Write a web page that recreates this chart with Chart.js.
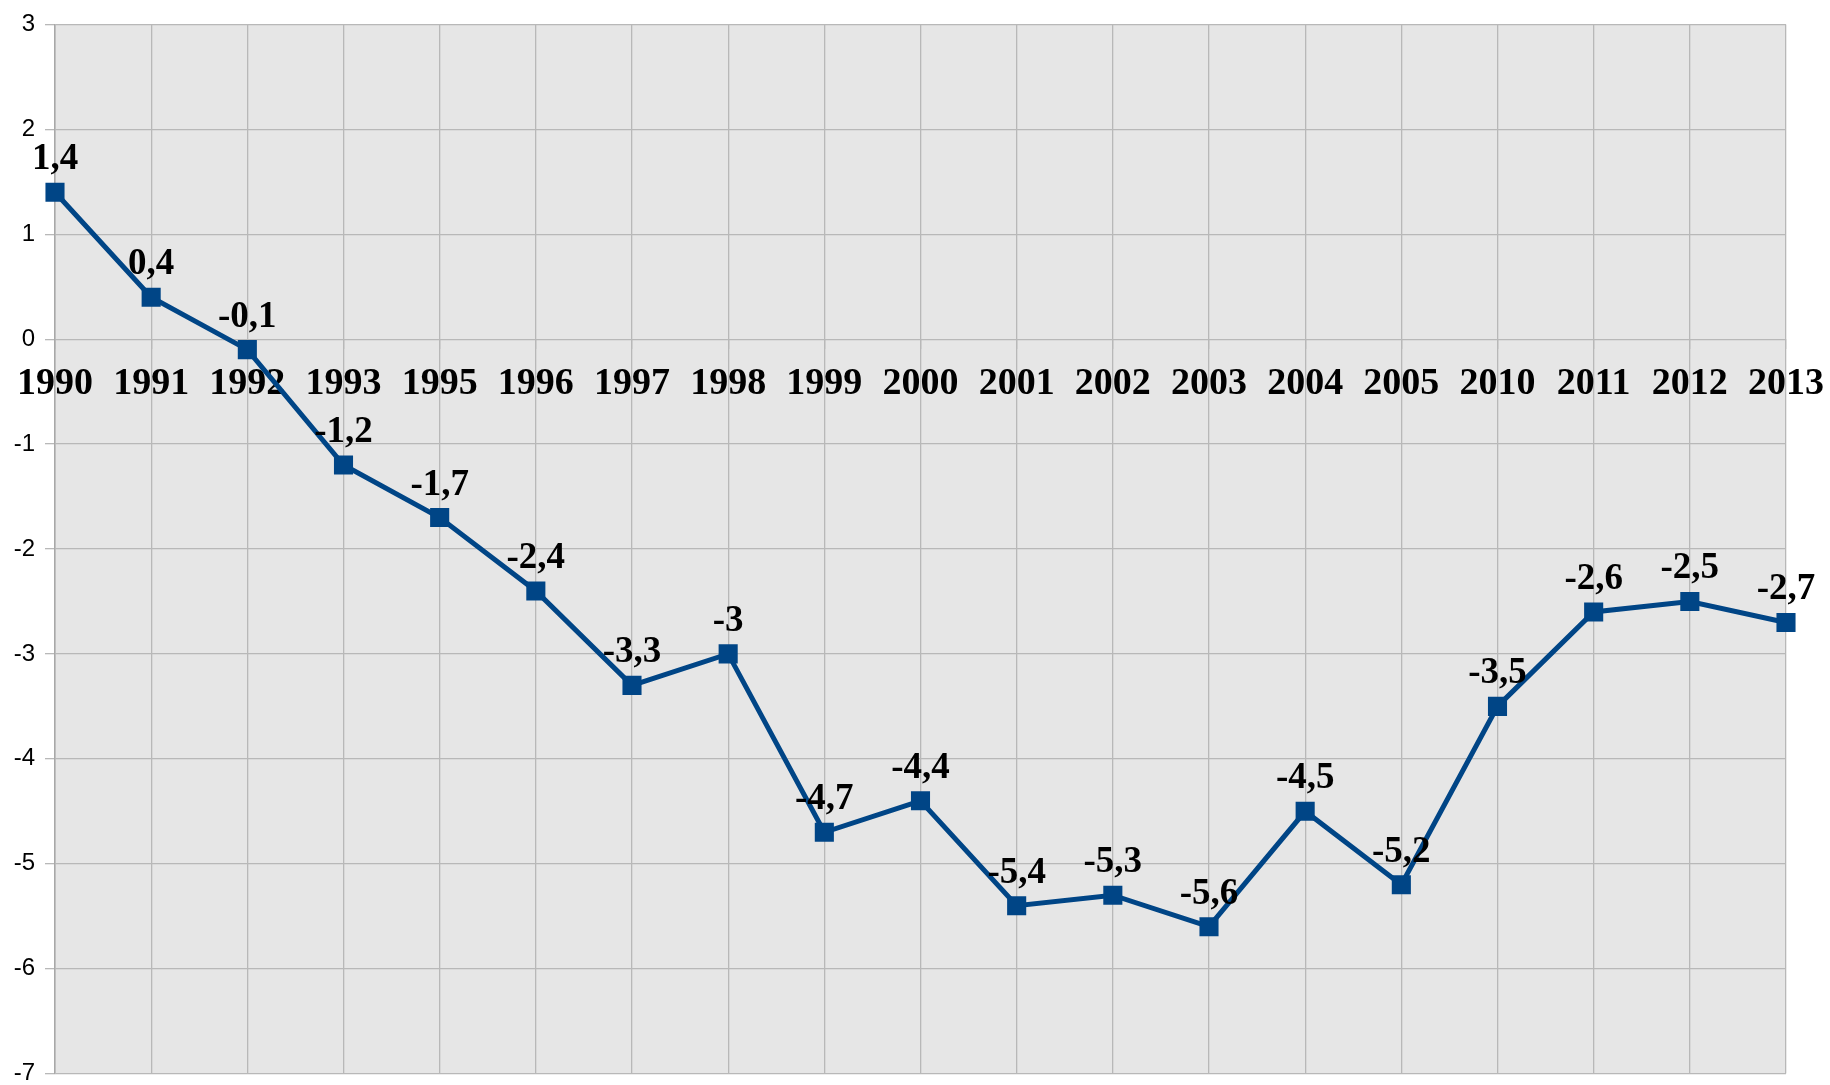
<!DOCTYPE html>
<html>
<head>
<meta charset="utf-8">
<script src="https://cdn.jsdelivr.net/npm/chart.js@4.4.1/dist/chart.umd.min.js"></script>
<style>
  html, body { margin: 0; padding: 0; background: #fff; overflow: hidden; }
  #wrap { width: 1830px; height: 1098px; }
</style>
</head>
<body>
<div id="wrap"><canvas id="chart"></canvas></div>
<script>
// data
var years = ['1990', '1991', '1992', '1993', '1995', '1996', '1997', '1998', '1999', '2000',
             '2001', '2002', '2003', '2004', '2005', '2010', '2011', '2012', '2013'];
var values = [1.4, 0.4, -0.1, -1.2, -1.7, -2.4, -3.3, -3, -4.7, -4.4,
              -5.4, -5.3, -5.6, -4.5, -5.2, -3.5, -2.6, -2.5, -2.7];
var yMin = -7;
var yMax = 3;

var lineColor = '#004586';
var gridColor = '#b8b8b8';

// grey plot background
var plotBackground = {
    id: 'plotBackground',
    beforeDraw: function (chart) {
        var a = chart.chartArea;
        var ctx = chart.ctx;
        ctx.save();
        ctx.fillStyle = '#e6e6e6';
        ctx.fillRect(a.left, a.top, a.right - a.left, a.bottom - a.top);
        ctx.restore();
    }
};

// value labels above each point, with a decimal comma
var valueLabels = {
    id: 'valueLabels',
    afterDatasetsDraw: function (chart) {
        var ctx = chart.ctx;
        var meta = chart.getDatasetMeta(0);
        ctx.save();
        ctx.font = 'bold 37px "Liberation Serif", serif';
        ctx.fillStyle = '#000';
        ctx.textAlign = 'center';
        ctx.textBaseline = 'alphabetic';
        meta.data.forEach(function (pt, i) {
            var txt = String(values[i]).replace('.', ',');
            ctx.fillText(txt, pt.x, pt.y - 23);
        });
        ctx.restore();
    }
};

var ctx = document.getElementById('chart').getContext('2d');
var chart = new Chart(ctx, {
    type: 'line',
    data: {
        labels: years,
        datasets: [{
            data: values,
            borderColor: lineColor,
            backgroundColor: lineColor,
            borderWidth: 5,
            tension: 0,
            pointStyle: 'rect',
            pointRadius: 13.5,
            pointBorderWidth: 0,
            pointBackgroundColor: lineColor
        }]
    },
    options: {
        responsive: true,
        maintainAspectRatio: false,
        animation: false,
        layout: {
            padding: { top: 22, right: 44, bottom: 8, left: 0 }
        },
        plugins: {
            legend: { display: false },
            tooltip: { enabled: false }
        },
        scales: {
            x: {
                position: { y: 0 },
                offset: false,
                afterFit: function (scale) {
                    scale.paddingLeft = 0;
                    scale.paddingRight = 0;
                },
                grid: {
                    color: gridColor,
                    lineWidth: 1.3,
                    drawTicks: true,
                    tickLength: 10
                },
                border: { display: false },
                ticks: {
                    color: '#000',
                    padding: 12,
                    maxRotation: 0,
                    autoSkip: false,
                    font: { family: '"Liberation Serif", serif', size: 38, weight: 'bold' }
                }
            },
            y: {
                min: yMin,
                max: yMax,
                afterFit: function (scale) { scale.width = 55; },
                grid: {
                    color: gridColor,
                    lineWidth: 1.3,
                    tickLength: 10
                },
                border: { color: '#a8a8a8', width: 1.5 },
                ticks: {
                    stepSize: 1,
                    color: '#000',
                    padding: 10,
                    font: { family: '"Liberation Sans", Arial, sans-serif', size: 24 }
                }
            }
        }
    },
    plugins: [plotBackground, valueLabels]
});
</script>
</body>
</html>
